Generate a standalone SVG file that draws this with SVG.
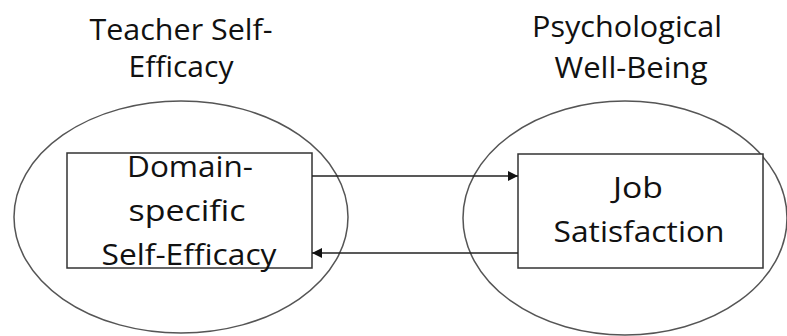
<svg xmlns="http://www.w3.org/2000/svg" width="787" height="336" viewBox="0 0 787 336">
<style>
.ell{fill:none;stroke:#555;stroke-width:1.5}
.box{fill:#fff;stroke:#333;stroke-width:1.5}
.conn{stroke:#222;stroke-width:1.5;fill:none}
text{font-family:"Open Sans","Liberation Sans",sans-serif;font-size:30px;fill:#111;text-anchor:middle}
</style>
<defs>
<marker id="ah" viewBox="0 0 10 10" refX="10" refY="5" markerWidth="10" markerHeight="10" markerUnits="userSpaceOnUse" orient="auto">
<path d="M0,0 L10,5 L0,10 z" fill="#111"/>
</marker>
</defs>
<g id="teacher-self-efficacy">
<ellipse class="ell" cx="181" cy="217" rx="167" ry="116"/>
<text x="181" y="40" textLength="183" lengthAdjust="spacingAndGlyphs">Teacher Self-</text>
<text x="181" y="77" textLength="105" lengthAdjust="spacingAndGlyphs">Efficacy</text>
</g>
<g id="psychological-well-being">
<ellipse class="ell" cx="625" cy="218" rx="162" ry="117"/>
<text x="627" y="37" textLength="190" lengthAdjust="spacingAndGlyphs">Psychological</text>
<text x="631" y="78" textLength="153" lengthAdjust="spacingAndGlyphs">Well-Being</text>
</g>
<g id="domain-specific-self-efficacy">
<rect class="box" x="67" y="153" width="245" height="115"/>
<text x="190" y="177" textLength="126" lengthAdjust="spacingAndGlyphs">Domain-</text>
<text x="187" y="221" textLength="117" lengthAdjust="spacingAndGlyphs">specific</text>
<text x="189" y="265" textLength="175" lengthAdjust="spacingAndGlyphs">Self-Efficacy</text>
</g>
<g id="job-satisfaction">
<rect class="box" x="518" y="154" width="245" height="114"/>
<text x="638" y="198" textLength="50" lengthAdjust="spacingAndGlyphs">Job</text>
<text x="639" y="242" textLength="171" lengthAdjust="spacingAndGlyphs">Satisfaction</text>
</g>
<g id="connectors">
<line class="conn" x1="312" y1="176" x2="518" y2="176" marker-end="url(#ah)"/>
<line class="conn" x1="518" y1="253" x2="312" y2="253" marker-end="url(#ah)"/>
</g>
</svg>
